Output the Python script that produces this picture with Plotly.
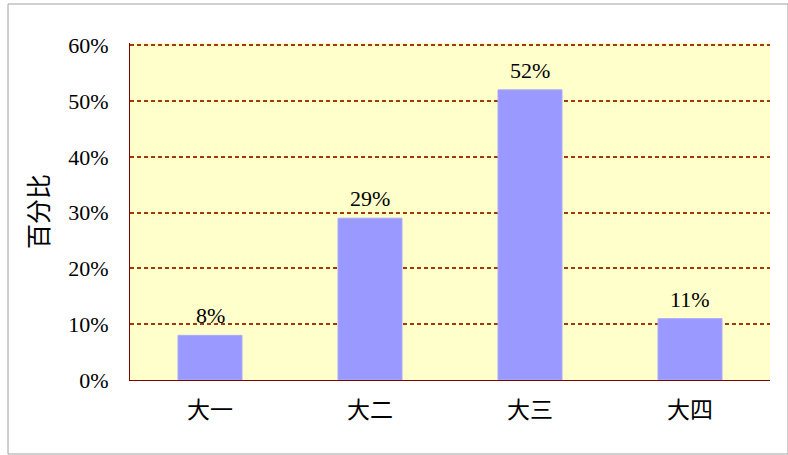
import plotly.graph_objects as go

categories = ["大一", "大二", "大三", "大四"]
values = [0.08, 0.29, 0.52, 0.11]
y_title = "百分比"
tick_vals = [0, 0.1, 0.2, 0.3, 0.4, 0.5, 0.6]

FONT = "Liberation Serif, Noto Sans CJK SC, serif"
GRID = "#A03A08"
AXIS = "#800000"

fig = go.Figure(
    go.Bar(
        x=categories,
        y=values,
        marker=dict(color="#9999FF", line=dict(color="#AAAAFF", width=1)),
        width=0.4,
    )
)

for c, v in zip(categories, values):
    fig.add_annotation(
        x=c, y=v, text=f"{v:.0%}", showarrow=False,
        yanchor="bottom", yshift=5,
        font=dict(family=FONT, size=22, color="#000000"),
    )

fig.update_layout(
    width=788,
    height=455,
    margin=dict(l=130, r=18, t=43, b=75),
    paper_bgcolor="#FFFFFF",
    plot_bgcolor="#FFFFCC",
    font=dict(family=FONT, size=22, color="#000000"),
    showlegend=False,
    shapes=[
        dict(
            type="rect", xref="paper", yref="paper",
            x0=-0.1906, x1=1.0281, y0=-0.2196, y1=1.1157,
            line=dict(color="#A0A0A0", width=1), fillcolor="rgba(0,0,0,0)",
            layer="below",
        )
    ],
)

fig.update_xaxes(
    showgrid=False,
    showline=True,
    linecolor=AXIS,
    linewidth=1,
    ticks="",
    automargin=False,
    tickfont=dict(family=FONT, size=23, color="#000000"),
    ticklabelstandoff=9,
)

fig.update_yaxes(
    range=[0, 0.604],
    tickvals=tick_vals,
    tickformat=".0%",
    showgrid=True,
    gridcolor=GRID,
    gridwidth=1.5,
    griddash="4px,3px",
    zeroline=False,
    showline=True,
    linecolor=AXIS,
    linewidth=1,
    ticks="",
    automargin=False,
    ticklabelstandoff=16,
    tickfont=dict(family=FONT, size=22, color="#000000"),
    title=dict(text=y_title, font=dict(family="Noto Sans CJK SC", size=25, color="#000000"), standoff=12),
)

fig.write_html(
    "out.html",
    config={"displayModeBar": False},
    post_script="document.body.style.margin='0px';document.body.style.overflow='hidden';",
)
